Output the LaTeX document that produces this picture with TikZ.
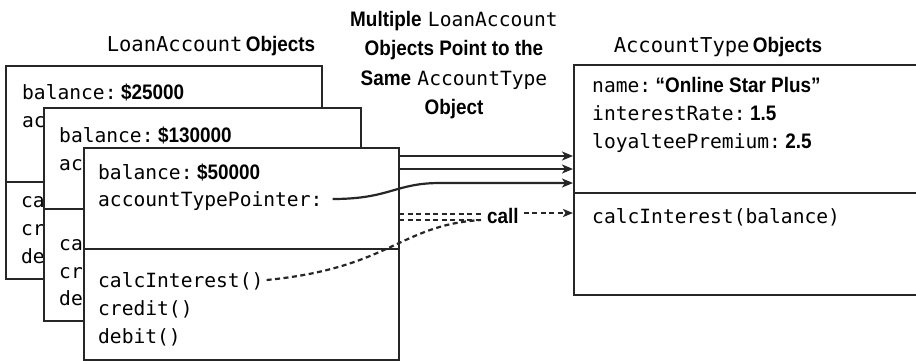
\documentclass[tikz,border=0pt]{standalone}
\usepackage{fontspec}
\newfontfamily\monofam{DejaVu Sans Mono}
\newfontfamily\condfam[FakeStretch=0.9]{Liberation Sans}
\usetikzlibrary{arrows.meta}
\newcommand\mtxt[1]{{\monofam\fontsize{19.6}{23}\selectfont #1}}
\newcommand\btxt[1]{{\condfam\bfseries\fontsize{21}{24}\selectfont #1}}
\begin{document}
\begin{tikzpicture}[x=1pt,y=-1pt,
  box/.style={draw=black!85,line width=2.2pt,fill=white,inner sep=0pt,anchor=north west},
  sep/.style={draw=black!85,line width=2.2pt},
  txt/.style={inner sep=0pt,anchor=base west},
  ttl/.style={inner sep=0pt,anchor=base},
  ptr/.style={draw=black!85,line width=2.2pt,-{Stealth[length=11pt,width=9pt,inset=3pt]}},
  calls/.style={draw=black!85,line width=2.2pt,dash pattern=on 5pt off 3.5pt},
  callarrow/.style={calls,-{Stealth[length=10pt,width=8pt,inset=2.5pt]}}]
\useasboundingbox (0,0) rectangle (916,360);

% titles
\node[ttl] (t1) at (211,51) {{\monofam\fontsize{20.5}{24}\selectfont LoanAccount} \btxt{Objects}};
\node[inner sep=0pt,anchor=north,align=center,font=\fontsize{21}{29.5}\selectfont] (t2) at (454,11)
  {\btxt{Multiple} \mtxt{LoanAccount}\\ \btxt{Objects Point to the}\\ \btxt{Same} \mtxt{AccountType}\\ \btxt{Object}};
\node[ttl] (t3) at (718,52) {{\monofam\fontsize{20.5}{24}\selectfont AccountType} \btxt{Objects}};

% box 1
\node[box,minimum width=316pt,minimum height=213pt] (b1) at (5,65) {};
\draw[sep] (b1.west |- 0,182) -- (b1.east |- 0,182);
\node[txt] (b1bal) at (22,99) {\mtxt{balance:} \btxt{\$25000}};
\node[txt] (b1ptr) at (22,127) {\mtxt{ac}};
\node[txt] (b1ci) at (21,207) {\mtxt{ca}};
\node[txt] (b1cr) at (21,235) {\mtxt{cr}};
\node[txt] (b1db) at (21,263) {\mtxt{de}};

% box 2
\node[box,minimum width=317pt,minimum height=213pt] (b2) at (43,107) {};
\draw[sep] (b2.west |- 0,209) -- (b2.east |- 0,209);
\node[txt] (b2bal) at (59,142) {\mtxt{balance:} \btxt{\$130000}};
\node[txt] (b2ptr) at (59,170) {\mtxt{ac}};
\node[txt] (b2ci) at (59,250) {\mtxt{ca}};
\node[txt] (b2cr) at (59,278) {\mtxt{cr}};
\node[txt] (b2db) at (59,305) {\mtxt{de}};

% box 3
\node[box,minimum width=315pt,minimum height=212pt] (b3) at (83,147) {};
\draw[sep] (b3.west |- 0,249) -- (b3.east |- 0,249);
\node[txt] (b3bal) at (98,179) {\mtxt{balance:} \btxt{\$50000}};
\node[txt] (b3ptr) at (98,206) {\mtxt{accountTypePointer:}};
\node[txt] (b3ci) at (98,287) {\mtxt{calcInterest()}};
\node[txt] (b3cr) at (98,315) {\mtxt{credit()}};
\node[txt] (b3db) at (98,343) {\mtxt{debit()}};

% account type box
\draw[sep] (916,65) -| (574,295) -- (916,295);
\draw[sep] (574,193) -- (916,193);
\node[txt] (nm) at (592,92) {\mtxt{name:} \btxt{“Online Star Plus”}};
\node[txt] (ir) at (592,120) {\mtxt{interestRate:} \btxt{1.5}};
\node[txt] (lp) at (592,148) {\mtxt{loyalteePremium:} \btxt{2.5}};
\node[txt] (ci) at (592,223) {\mtxt{calcInterest(balance)}};

% pointers
\coordinate (p1s) at (398,156);
\coordinate (p1e) at (573,156);
\coordinate (p2s) at (398,169);
\coordinate (p2e) at (573,169);
\coordinate (p3e) at (573,183);
\draw[ptr] (p1s) -- (p1e);
\draw[ptr] (p2s) -- (p2e);
\draw[ptr] ([xshift=10pt]b3ptr.base east) ++(0,-7) .. controls (390,199) and (395,183) .. (440,183) -- (p3e);

% calls
\node[txt] (call) at (487,223) {\btxt{call}};
\coordinate (c1s) at (399,214);
\coordinate (c2s) at (399,220);
\coordinate (callin) at (481,216);
\coordinate (cie) at (573,213);
\draw[calls] (c1s) -- (c1s -| callin);
\draw[calls] (c2s) -- (c2s -| callin);
\draw[calls] ([xshift=3pt]b3ci.base east) ++(0,-7) .. controls (390,268) and (400,225) .. (c2s -| callin);
\draw[callarrow] ([xshift=5pt]call.east |- cie) -- (cie);
\end{tikzpicture}
\end{document}
